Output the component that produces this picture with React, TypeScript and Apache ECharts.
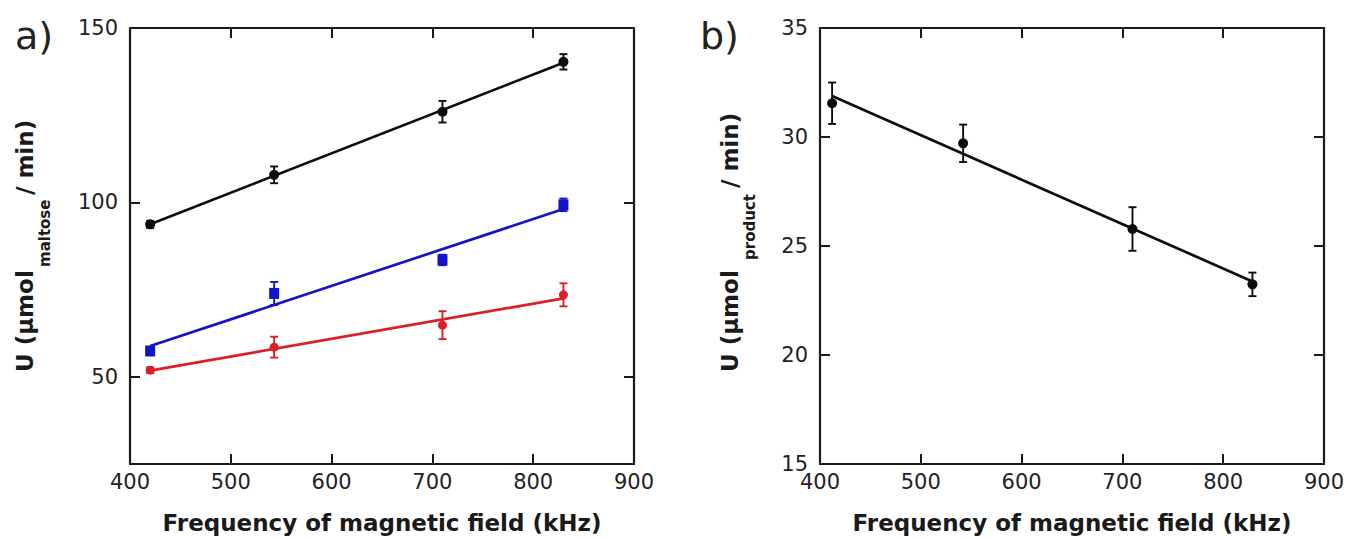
import React, { useEffect, useRef } from "react";
import * as echarts from "echarts";

// ---- data ----
const freqA = [420, 543, 710, 830];
const blackA = [93.7, 107.9, 126.0, 140.3];
const blackErr = [1.0, 2.4, 3.1, 2.2];
const blueA = [57.4, 73.9, 83.5, 99.3];
const blueErr = [1.0, 3.3, 1.5, 1.8];
const redA = [51.9, 58.5, 64.8, 73.5];
const redErr = [0.8, 3.0, 4.0, 3.3];

const freqB = [412, 542, 710, 829];
const productB = [31.55, 29.71, 25.78, 23.24];
const productErr = [0.95, 0.86, 1.0, 0.54];

const yTicksA = [50, 100, 150];
const yTicksB = [15, 20, 25, 30, 35];

const FONT = "DejaVu Sans";
const AX = "#1a1a1a";
const BLACK = "#0d0d0d";
const BLUE = "#1414c8";
const RED = "#dc1f24";

function fitLine(xs: number[], ys: number[]) {
  const n = xs.length;
  const mx = xs.reduce((a, b) => a + b, 0) / n;
  const my = ys.reduce((a, b) => a + b, 0) / n;
  let sxy = 0, sxx = 0;
  for (let i = 0; i < n; i++) {
    sxy += (xs[i] - mx) * (ys[i] - my);
    sxx += (xs[i] - mx) * (xs[i] - mx);
  }
  const k = sxy / sxx;
  const b = my - k * mx;
  return [
    [xs[0], k * xs[0] + b],
    [xs[n - 1], k * xs[n - 1] + b],
  ];
}

function xAxisCfg(gridIndex: number, top: boolean) {
  return {
    type: "value",
    gridIndex,
    position: top ? "top" : "bottom",
    min: 400,
    max: 900,
    interval: 100,
    axisLine: { show: true, onZero: false, lineStyle: { color: AX, width: 2.2 } },
    axisTick: { show: true, inside: true, length: 10, lineStyle: { color: AX, width: 2 } },
    axisLabel: top
      ? { show: false }
      : { show: true, fontFamily: FONT, fontSize: 21, color: "#222", margin: 7 },
    splitLine: { show: false },
    name: top ? "" : "Frequency of magnetic field (kHz)",
    nameLocation: "middle",
    nameGap: 47,
    nameTextStyle: { fontFamily: FONT, fontWeight: "bold", fontSize: 23, color: AX },
  };
}

function yAxisCfg(gridIndex: number, right: boolean, min: number, max: number, interval: number, ticks: number[]) {
  return {
    type: "value",
    gridIndex,
    position: right ? "right" : "left",
    min,
    max,
    interval,
    axisLine: { show: true, onZero: false, lineStyle: { color: AX, width: 2.2 } },
    axisTick: { show: true, inside: true, length: 10, customValues: ticks, lineStyle: { color: AX, width: 2 } },
    axisLabel: right
      ? { show: false }
      : { show: true, customValues: ticks, fontFamily: FONT, fontSize: 21, color: "#222", margin: 12 },
    splitLine: { show: false },
  };
}

function errorSeries(xs: number[], ys: number[], es: number[], color: string, axis: number) {
  return {
    type: "custom",
    xAxisIndex: axis,
    yAxisIndex: axis,
    z: 3,
    silent: true,
    encode: { x: 0, y: 1 },
    data: xs.map((x, i) => [x, ys[i], es[i]]),
    renderItem: (params: any, api: any) => {
      const x = api.value(0);
      const y = api.value(1);
      const e = api.value(2);
      const hi = api.coord([x, y + e]);
      const lo = api.coord([x, y - e]);
      const cw = 4;
      const style = { stroke: color, lineWidth: 1.9 };
      return {
        type: "group",
        children: [
          { type: "line", shape: { x1: hi[0], y1: hi[1], x2: lo[0], y2: lo[1] }, style },
          { type: "line", shape: { x1: hi[0] - cw, y1: hi[1], x2: hi[0] + cw, y2: hi[1] }, style },
          { type: "line", shape: { x1: lo[0] - cw, y1: lo[1], x2: lo[0] + cw, y2: lo[1] }, style },
        ],
      };
    },
  };
}

function fitSeries(xs: number[], ys: number[], color: string, axis: number) {
  return {
    type: "line",
    xAxisIndex: axis,
    yAxisIndex: axis,
    z: 2,
    silent: true,
    showSymbol: false,
    lineStyle: { color, width: 2.7 },
    data: fitLine(xs, ys),
  };
}

function pointSeries(xs: number[], ys: number[], color: string, axis: number, symbol: string, size: any) {
  return {
    type: "scatter",
    xAxisIndex: axis,
    yAxisIndex: axis,
    z: 4,
    symbol,
    symbolSize: size,
    itemStyle: { color, opacity: 1 },
    data: xs.map((x, i) => [x, ys[i]]),
  };
}

function rotText(text: string, x: number, y: number, size: number, bold: boolean) {
  return {
    type: "text",
    x,
    y,
    rotation: Math.PI / 2,
    style: {
      text,
      fontFamily: FONT,
      fontSize: size,
      fontWeight: bold ? "bold" : "normal",
      fill: AX,
      align: "left",
      verticalAlign: "middle",
    },
  };
}

export default function App() {
  const ref = useRef<HTMLDivElement>(null);

  useEffect(() => {
    document.body.style.margin = "0";
    if (!ref.current) return;
    const chart = echarts.init(ref.current, null, { renderer: "svg" });
    const option: any = {
      animation: false,
      backgroundColor: "#ffffff",
      grid: [
        { left: 130, top: 28, width: 504, height: 436 },
        { left: 820, top: 28, width: 504, height: 436 },
      ],
      xAxis: [xAxisCfg(0, false), xAxisCfg(0, true), xAxisCfg(1, false), xAxisCfg(1, true)],
      yAxis: [
        yAxisCfg(0, false, 25, 150, 25, yTicksA),
        yAxisCfg(0, true, 25, 150, 25, yTicksA),
        yAxisCfg(1, false, 15, 35, 5, yTicksB),
        yAxisCfg(1, true, 15, 35, 5, yTicksB),
      ],
      series: [
        fitSeries(freqA, blackA, BLACK, 0),
        fitSeries(freqA, blueA, BLUE, 0),
        fitSeries(freqA, redA, RED, 0),
        errorSeries(freqA, blackA, blackErr, BLACK, 0),
        errorSeries(freqA, blueA, blueErr, BLUE, 0),
        errorSeries(freqA, redA, redErr, RED, 0),
        pointSeries(freqA, blackA, BLACK, 0, "circle", 10),
        pointSeries(freqA, blueA, BLUE, 0, "rect", [10, 11]),
        pointSeries(freqA, redA, RED, 0, "circle", 9),
        fitSeries(freqB, productB, BLACK, 2),
        errorSeries(freqB, productB, productErr, BLACK, 2),
        pointSeries(freqB, productB, BLACK, 2, "circle", 10),
      ],
      graphic: [
        { type: "text", x: 15, y: 36, style: { text: "a)", fontFamily: FONT, fontSize: 38, fill: "#222", align: "left", verticalAlign: "middle" } },
        { type: "text", x: 700, y: 36, style: { text: "b)", fontFamily: FONT, fontSize: 38, fill: "#222", align: "left", verticalAlign: "middle" } },
        rotText("U (μmol", 25, 372, 23, true),
        rotText("maltose", 45, 267, 15, true),
        rotText("/ min)", 25, 195, 23, true),
        rotText("U (μmol", 730, 372, 23, true),
        rotText("product", 750, 260, 15, true),
        rotText("/ min)", 730, 188, 23, true),
      ],
    };
    chart.setOption(option);
    return () => chart.dispose();
  }, []);

  return <div ref={ref} style={{ width: 1361, height: 539 }} />;
}
